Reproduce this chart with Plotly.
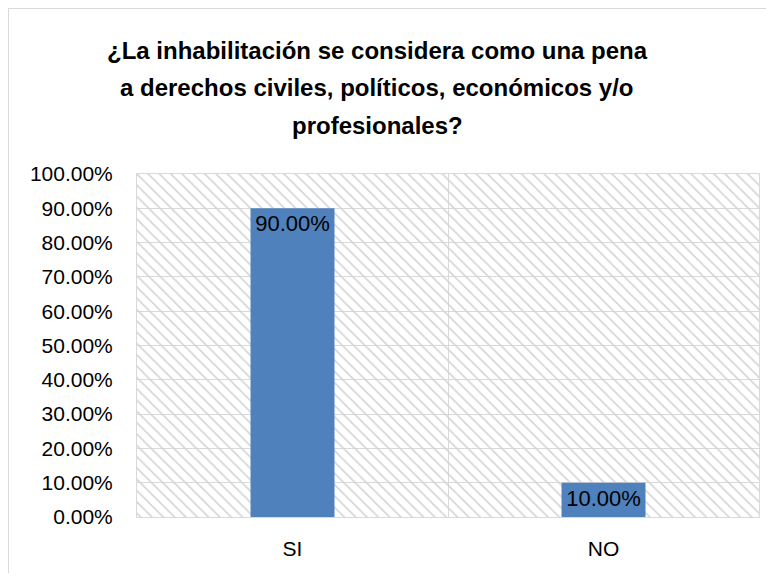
import plotly.graph_objects as go

categories = ["SI", "NO"]
values = [0.90, 0.10]
y_ticks = [i / 10 for i in range(11)]
y_tick_labels = [f"{v*100:.2f}%" for v in y_ticks]
title_lines = [
    "¿La inhabilitación se considera como una pena",
    "a derechos civiles, políticos, económicos y/o",
    "profesionales?",
]

FONT = "Liberation Sans, Arial, sans-serif"
GRID = "#d9d9d9"
Y_MAX = y_ticks[-1]

W, H = 758, 565
L, R, T, B = 129, 7, 166, 56
PW, PH = W - L - R, H - T - B

fig = go.Figure()

# hatched plot-area background (main subplot)
fig.add_trace(go.Bar(
    x=[0.5], y=[Y_MAX], width=[1.0], xaxis="x", yaxis="y",
    marker=dict(color="#d4d4d4", line=dict(width=0),
                pattern=dict(shape="\\", fillmode="replace", size=8, solidity=0.2)),
    hoverinfo="skip", showlegend=False,
))

# data bars (overlay subplot)
fig.add_trace(go.Bar(
    x=categories, y=values, xaxis="x2", yaxis="y2",
    marker=dict(color="#4F81BD", line=dict(width=0)),
    text=[f"{v*100:.2f}%" for v in values],
    textposition="inside", insidetextanchor="end", textangle=0,
    constraintext="none",
    textfont=dict(family=FONT, size=22, color="#000000"),
    showlegend=False,
))

# title lines (screen centre y ~ 50, 88, 126 ; figure offset 8px)
title_centers = [42, 80, 118]
annotations = []
for txt, cy in zip(title_lines, title_centers):
    annotations.append(dict(
        text=f"<b>{txt}</b>", xref="paper", yref="paper",
        x=(369 - L) / PW, y=(H - B - cy) / PH, xanchor="center", yanchor="middle",
        showarrow=False, font=dict(family=FONT, size=24, color="#000000"),
    ))

fig.update_layout(
    width=W, height=H,
    margin=dict(l=L, r=R, t=T, b=B),
    paper_bgcolor="white", plot_bgcolor="white",
    bargap=0.73,
    font=dict(family=FONT, color="#000000"),
    annotations=annotations,
    xaxis=dict(range=[0, 1], tickvals=[0.5], showticklabels=False, showgrid=True,
               gridcolor=GRID, gridwidth=1, showline=True, linecolor=GRID, linewidth=1,
               mirror=True, zeroline=False, ticks=""),
    yaxis=dict(range=[0, Y_MAX], tickvals=y_ticks, ticktext=y_tick_labels,
               showgrid=True, gridcolor=GRID, gridwidth=1, showline=True,
               linecolor=GRID, linewidth=1, mirror=True, zeroline=False, ticks="",
               ticklabelstandoff=19, tickfont=dict(family=FONT, size=21, color="#000000")),
    xaxis2=dict(overlaying="x", type="category", categoryorder="array",
                categoryarray=categories, showgrid=False, showline=False, ticks="",
                zeroline=False, ticklabelstandoff=17,
                tickfont=dict(family=FONT, size=21, color="#000000")),
    yaxis2=dict(overlaying="y", range=[0, Y_MAX], showgrid=False, showticklabels=False,
                showline=False, zeroline=False, ticks=""),
    shapes=[dict(type="rect", xref="paper", yref="paper",
                 x0=(0.5 - L) / PW, x1=(W + 40 - L) / PW,
                 y0=(H - B - H - 40) / PH, y1=(H - B - 0.5) / PH,
                 line=dict(color="#d9d9d9", width=1), fillcolor="rgba(0,0,0,0)",
                 layer="below")],
)

fig.write_html("out.html")
